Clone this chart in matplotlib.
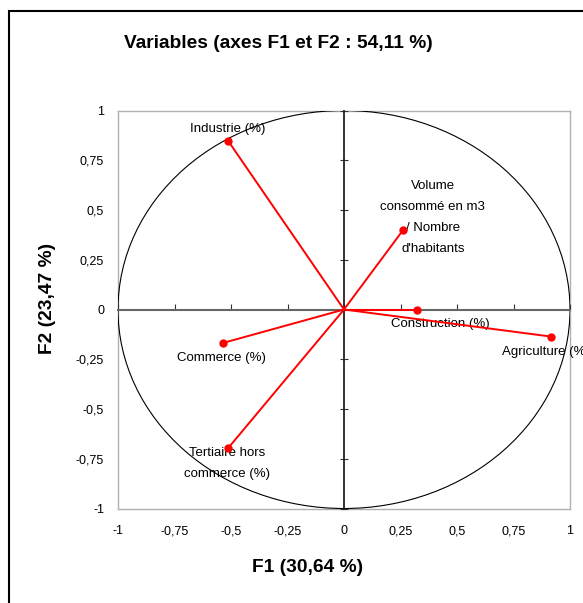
import matplotlib
matplotlib.use("Agg")
import matplotlib.pyplot as plt
from matplotlib.patches import Circle, Rectangle

plt.rcParams["font.family"] = ["Liberation Sans", "DejaVu Sans"]

# correlations of the variables with F1 / F2
variables = ["Industrie (%)", "Volume\nconsommé en m3\n/ Nombre\nd'habitants",
             "Construction (%)", "Agriculture (%)", "Commerce (%)",
             "Tertiaire hors\ncommerce (%)"]
f1 = [-0.513, 0.260, 0.324, 0.916, -0.535, -0.513]
f2 = [0.848, 0.397, 0.0, -0.136, -0.168, -0.697]

ticks = [-1, -0.75, -0.5, -0.25, 0, 0.25, 0.5, 0.75, 1]
tick_labels = ["-1", "-0,75", "-0,5", "-0,25", "0", "0,25", "0,5", "0,75", "1"]

# label offsets in pixels from each point
offsets = [(0, 12), (30, 13), (23, -15), (-5, -15), (-2, -15), (-1, -15)]

fig = plt.figure(figsize=(5.83, 6.03), dpi=100)
rect = [118 / 583, 1 - 508.5 / 603, 452 / 583, 398 / 603]

# background axes: grey frame + tick labels
axb = fig.add_axes(rect)
for s in axb.spines.values():
    s.set_color("#b0b0b0")
    s.set_linewidth(1)
axb.set_xlim(-1, 1)
axb.set_ylim(-1, 1)
axb.set_xticks(ticks)
axb.set_xticklabels(tick_labels)
axb.set_yticks(ticks)
axb.set_yticklabels(tick_labels)
axb.tick_params(length=0, labelsize=9, colors="black")
axb.tick_params(axis="x", pad=12)
axb.tick_params(axis="y", pad=10)

# data axes with spines through the origin
ax = fig.add_axes(rect, sharex=axb, sharey=axb)
ax.patch.set_visible(False)
ax.spines["left"].set_position(("data", 0))
ax.spines["bottom"].set_position(("data", 0))
ax.spines["top"].set_visible(False)
ax.spines["right"].set_visible(False)
ax.spines["left"].set_color("#222222")
ax.spines["bottom"].set_color("#666666")
ax.spines["left"].set_linewidth(1.3)
ax.spines["bottom"].set_linewidth(1.5)
ax.tick_params(labelbottom=False, labelleft=False)
ax.tick_params(axis="x", direction="in", length=4, color="#333333")
ax.tick_params(axis="y", direction="inout", length=6, color="#333333")

ax.add_patch(Circle((0, 0), 1, fill=False, color="black", lw=0.8))

for name, x, y, off in zip(variables, f1, f2, offsets):
    ax.plot([0, x], [0, y], color="red", lw=1.4, zorder=3)
    ax.plot(x, y, "o", color="red", ms=5, zorder=4)
    ax.annotate(name, (x, y), xytext=off, textcoords="offset pixels",
                ha="center", va="center", fontsize=9.5, linespacing=2.0,
                annotation_clip=False)

fig.text(278 / 583, 1 - 44 / 603, "Variables (axes F1 et F2 : 54,11 %)",
         ha="center", va="center", fontsize=13.8, fontweight="bold")
fig.text(308 / 583, 1 - 568 / 603, "F1 (30,64 %)",
         ha="center", va="center", fontsize=13.8, fontweight="bold")
fig.text(48 / 583, 1 - 298 / 603, "F2 (23,47 %)", rotation=90,
         ha="center", va="center", fontsize=13.8, fontweight="bold")

# outer chart border
fig.add_artist(Rectangle((9 / 583, -0.1), 2, 1.1 - 11 / 603,
                         transform=fig.transFigure, fill=False,
                         edgecolor="black", lw=1.5))

fig.savefig("out.png", dpi=100)
